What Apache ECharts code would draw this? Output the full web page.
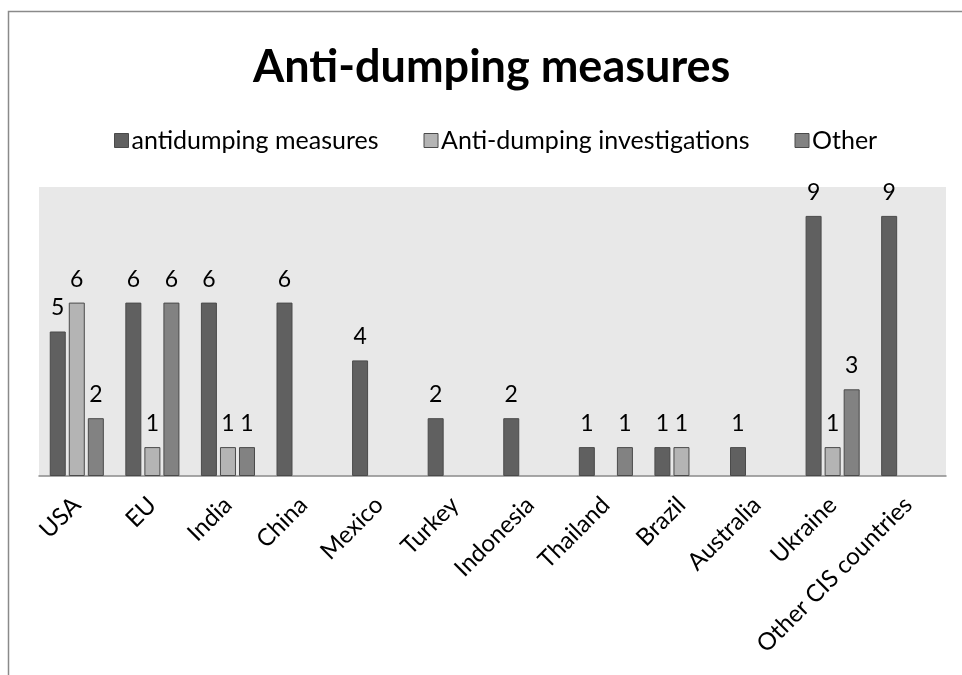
<!DOCTYPE html>
<html><head><meta charset="utf-8">
<script src="https://cdn.jsdelivr.net/npm/echarts@6/dist/echarts.min.js"></script>
<style>html,body{margin:0;padding:0;background:#fff}#c{width:962px;height:675px}</style>
</head><body><div id="c"></div>
<script>
const categories = ["USA","EU","India","China","Mexico","Turkey","Indonesia","Thailand","Brazil","Australia","Ukraine","Other CIS countries"];
const antidumpingMeasures = [5,6,6,6,4,2,2,1,1,1,9,9];
const antiDumpingInvestigations = [6,1,1,null,null,null,null,null,1,null,1,null];
const other = [2,6,1,null,null,null,null,1,null,null,3,null];
const seriesNames = ["antidumping measures","Anti-dumping investigations","Other"];
const colors = ["#606060","#b4b4b4","#828282"];

const chart = echarts.init(document.getElementById('c'), null, {renderer:'canvas'});
const FONT = 'Lato';
function mk(name, data, color){
  return {
    name, type:'bar', data,
    barWidth:16, barGap:'19%',
    itemStyle:{color, borderColor:'#4a4a4a', borderWidth:1},
    label:{show:true, position:'top', distance:12, color:'#000', fontFamily:FONT, fontSize:23}
  };
}
chart.setOption({
  animation:false,
  graphic:[{type:'rect', shape:{x:8.5,y:11.5,width:1000,height:1000}, style:{fill:'none', stroke:'#8a8a8a', lineWidth:1.5}, silent:true, z:-10}],
  title:{text:'Anti-dumping measures', left:248, top:40, textStyle:{fontFamily:FONT, fontWeight:'bold', fontSize:45, color:'#000'}},
  legend:{top:123, left:109, itemWidth:14, itemHeight:14, itemGap:45, icon:'rect',
    textStyle:{fontFamily:FONT, fontSize:25, color:'#000', padding:[0,0,0,-2]},
    data:seriesNames.map((n,i)=>({name:n, itemStyle:{color:colors[i], borderColor:'#4a4a4a', borderWidth:1}}))},
  grid:{left:39, right:16, top:187, bottom:199, show:true, backgroundColor:'#e8e8e8', borderWidth:0},
  xAxis:{type:'category', data:categories,
    axisLine:{lineStyle:{color:'#8a8a8a', width:1.5}}, axisTick:{show:false},
    axisLabel:{rotate:45, interval:0, fontFamily:FONT, fontSize:24, color:'#000', margin:25}},
  yAxis:{type:'value', min:0, max:10, show:false, splitLine:{show:false}},
  series:[mk(seriesNames[0], antidumpingMeasures, colors[0]), mk(seriesNames[1], antiDumpingInvestigations, colors[1]), mk(seriesNames[2], other, colors[2])]
});
</script></body></html>
